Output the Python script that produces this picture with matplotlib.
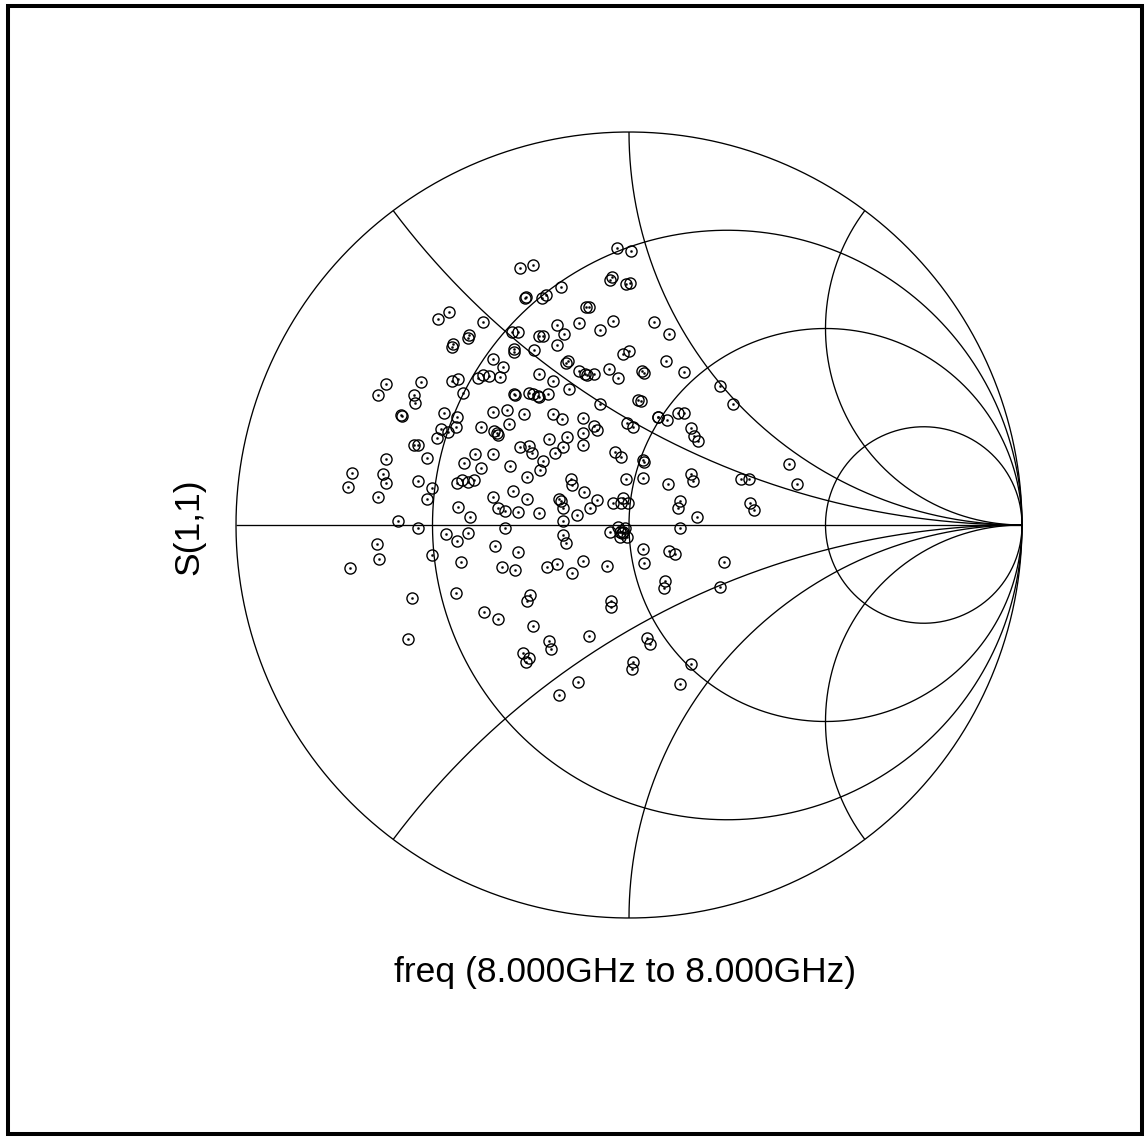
import numpy as np
import matplotlib
matplotlib.use("Agg")
import matplotlib.pyplot as plt
from matplotlib.patches import Rectangle

plt.rcParams['font.family'] = ['Liberation Sans', 'DejaVu Sans']

# Measured reflection coefficient S(1,1) at 8.000 GHz (real / imaginary parts)
s11_re = [
    -0.485, -0.458, -0.372, -0.451, -0.447, -0.409, -0.406, -0.347, -0.619, -0.528,
    -0.450, -0.436, -0.422, -0.383, -0.371, -0.356, -0.639, -0.547, -0.031, 0.004,
    -0.277, -0.244, -0.048, -0.042, -0.008, 0.003, -0.265, -0.262, -0.222, -0.211,
    -0.173, -0.110, -0.101, -0.184, -0.126, -0.040, -0.074, -0.165, -0.230, -0.220,
    -0.298, -0.282, -0.184, -0.242, -0.292, -0.293, -0.321, -0.328, -0.016, 0.001,
    -0.160, -0.154, -0.228, -0.193, -0.126, -0.112, -0.106, -0.089, -0.051, -0.029,
    0.032, 0.038, -0.153, 0.064, 0.102, 0.094, 0.141, 0.232, -0.545, -0.580,
    -0.578, -0.470, -0.438, -0.345, -0.478, -0.461, -0.441, -0.489, -0.377, -0.547,
    -0.538, -0.513, -0.619, -0.392, -0.346, -0.419, -0.377, -0.706, -0.714, -0.627,
    -0.619, -0.538, -0.502, -0.438, -0.426, -0.409, -0.394, -0.639, -0.513, -0.347,
    -0.434, -0.405, -0.587, -0.536, -0.466, -0.438, -0.409, -0.642, -0.342, -0.293,
    -0.290, -0.254, -0.244, -0.231, -0.228, -0.205, -0.074, 0.024, 0.030, -0.310,
    -0.267, -0.193, -0.171, -0.118, -0.305, -0.344, -0.337, -0.333, -0.089, -0.081,
    -0.118, -0.006, 0.011, -0.203, -0.157, -0.118, -0.277, -0.254, -0.248, -0.169,
    -0.188, -0.218, -0.226, -0.303, -0.036, -0.020, 0.035, 0.038, -0.259, -0.148,
    -0.146, -0.008, 0.035, -0.114, -0.294, -0.259, -0.177, -0.174, -0.082, -0.333,
    -0.316, -0.282, -0.228, -0.169, -0.133, -0.099, -0.040, -0.021, -0.015, -0.002,
    -0.169, -0.316, -0.048, -0.028, -0.023, -0.019, -0.015, -0.010, -0.023, -0.006,
    -0.167, -0.160, 0.265, 0.075, 0.073, 0.096, 0.125, 0.141, 0.158, 0.166,
    0.176, 0.098, 0.157, 0.164, 0.407, 0.427, 0.284, 0.306, 0.130, 0.125,
    0.172, 0.309, 0.317, 0.130, -0.635, -0.710, -0.502, -0.427, -0.553, -0.439,
    -0.368, -0.333, -0.563, -0.282, -0.324, -0.290, -0.208, -0.184, -0.118, -0.144,
    -0.055, 0.036, 0.038, -0.252, -0.259, -0.047, -0.046, -0.244, -0.203, -0.199,
    -0.270, -0.254, -0.262, -0.102, 0.011, 0.008, 0.045, 0.053, -0.129, -0.177,
    0.102, 0.117, 0.242, 0.092, 0.090, 0.232, 0.157, 0.130,
]
s11_im = [
    0.523, 0.542, 0.516, 0.454, 0.460, 0.477, 0.483, 0.422, 0.359, 0.365,
    0.367, 0.372, 0.335, 0.375, 0.382, 0.380, 0.331, 0.331, 0.704, 0.698,
    0.653, 0.661, 0.623, 0.632, 0.613, 0.615, 0.577, 0.581, 0.578, 0.585,
    0.606, 0.555, 0.555, 0.509, 0.513, 0.520, 0.496, 0.485, 0.482, 0.482,
    0.492, 0.492, 0.457, 0.446, 0.448, 0.441, 0.403, 0.377, 0.435, 0.443,
    0.411, 0.417, 0.383, 0.367, 0.392, 0.383, 0.382, 0.383, 0.396, 0.375,
    0.392, 0.388, 0.346, 0.516, 0.485, 0.418, 0.389, 0.354, 0.310, 0.280,
    0.278, 0.284, 0.274, 0.288, 0.244, 0.237, 0.250, 0.221, 0.250, 0.204,
    0.204, 0.171, 0.167, 0.180, 0.180, 0.157, 0.144, 0.132, 0.097, 0.129,
    0.108, 0.113, 0.093, 0.106, 0.115, 0.109, 0.115, 0.070, 0.066, 0.070,
    0.047, 0.020, 0.011, -0.008, -0.024, -0.040, -0.021, -0.048, -0.053, 0.333,
    0.331, 0.335, 0.333, 0.328, 0.325, 0.333, 0.308, 0.318, 0.316, 0.293,
    0.282, 0.282, 0.269, 0.272, 0.257, 0.240, 0.235, 0.229, 0.252, 0.242,
    0.235, 0.260, 0.250, 0.218, 0.223, 0.204, 0.199, 0.201, 0.182, 0.199,
    0.184, 0.164, 0.140, 0.150, 0.187, 0.172, 0.165, 0.161, 0.121, 0.117,
    0.102, 0.117, 0.119, 0.085, 0.087, 0.065, 0.065, 0.062, 0.064, 0.044,
    0.036, 0.034, 0.030, 0.042, 0.025, 0.042, 0.055, 0.055, 0.068, 0.055,
    0.011, -0.007, -0.017, -0.005, -0.017, -0.021, -0.017, -0.008, -0.030, -0.031,
    -0.025, -0.047, 0.308, 0.276, 0.274, 0.267, 0.286, 0.284, 0.246, 0.226,
    0.215, 0.104, 0.129, 0.113, 0.155, 0.104, 0.116, 0.116, 0.062, 0.042,
    0.020, 0.055, 0.038, -0.008, -0.087, -0.110, -0.076, -0.095, -0.185, -0.174,
    -0.221, -0.240, -0.291, -0.068, -0.108, -0.115, -0.108, -0.099, -0.091, -0.123,
    -0.104, -0.061, -0.097, -0.178, -0.193, -0.193, -0.208, -0.256, -0.295, -0.316,
    -0.326, -0.339, -0.349, -0.282, -0.349, -0.366, -0.288, -0.303, -0.400, -0.433,
    -0.066, -0.075, -0.095, -0.142, -0.161, -0.157, -0.354, -0.405,
]

# Smith chart grid: constant-resistance circles and constant-reactance arcs
r_circles = [1 / 3, 1.0, 3.0]
x_arcs = [0.5, 1.0, 2.0]

W, H = 1148, 1140
cx, cy, R = 629, 525, 393          # chart centre / radius in pixels

fig = plt.figure(figsize=(W / 100, H / 100), dpi=100)
ax = fig.add_axes([0, 0, 1, 1])
ax.set_xlim(-cx / R, (W - cx) / R)
ax.set_ylim((cy - H) / R, cy / R)
ax.axis('off')

grid_kw = dict(color='black', lw=0.95, solid_capstyle='butt')

# outer |Gamma| = 1 boundary
th = np.linspace(0, 2 * np.pi, 1000)
ax.plot(np.cos(th), np.sin(th), **grid_kw)

# constant resistance circles
for r in r_circles:
    c, rad = r / (1 + r), 1 / (1 + r)
    ax.plot(c + rad * np.cos(th), rad * np.sin(th), **grid_kw)

# constant reactance arcs, swept over resistance 0 .. infinity
t = np.linspace(0, 1, 2000)[:-1]
rr = t / (1 - t)
for x in x_arcs:
    for sgn in (1, -1):
        z = rr + 1j * sgn * x
        g = (z - 1) / (z + 1)
        g = np.append(g, 1 + 0j)
        ax.plot(g.real, g.imag, **grid_kw)

# real axis
ax.plot([-1, 1], [0, 0], **grid_kw)

# data markers: open circle with a centre dot
ax.plot(s11_re, s11_im, linestyle='none', marker='o', ms=8.0,
        mfc='none', mec='black', mew=1.0)
ax.plot(s11_re, s11_im, linestyle='none', marker='o', ms=1.5,
        mfc='black', mec='black', mew=0.3)

# figure frame
fig.add_artist(Rectangle((8 / W, 1 - 1134 / H), (1142 - 8) / W, (1134 - 6) / H,
                         transform=fig.transFigure, fill=False, lw=2.9,
                         ec='black'))

fig.text(625.5 / W, 1 - 982 / H, 'freq (8.000GHz to 8.000GHz)',
         ha='center', va='baseline', fontsize=25.5)
fig.text(198 / W, 1 - 527 / H, 'S(1,1)', rotation=90, rotation_mode='anchor',
         ha='center', va='baseline', fontsize=25.5)

fig.savefig('out.png', dpi=100)
